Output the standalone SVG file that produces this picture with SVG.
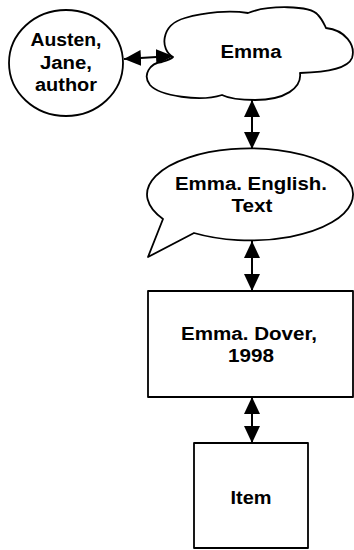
<svg xmlns="http://www.w3.org/2000/svg" width="354" height="550" viewBox="0 0 354 550">
<defs>
<style>
.shape{fill:#fff;stroke:#000;stroke-width:1.8;stroke-linejoin:round}
.lbl{font-family:"Liberation Sans",Arial,sans-serif;font-weight:bold;font-size:18px;fill:#000;text-anchor:middle}
.conn{stroke:#000;stroke-width:2;fill:none;marker-start:url(#ah);marker-end:url(#ah)}
</style>
<marker id="ah" markerUnits="userSpaceOnUse" markerWidth="17" markerHeight="16" refX="17" refY="8" orient="auto-start-reverse" viewBox="0 0 17 16">
<path d="M0,0 L17,8 L0,16 Z" fill="#000"/>
</marker>
</defs>
<rect width="354" height="550" fill="#fff"/>
<g id="connectors">
<line class="conn" x1="124" y1="59" x2="173" y2="56"/>
<line class="conn" x1="252" y1="100" x2="252" y2="149"/>
<line class="conn" x1="252" y1="241" x2="252" y2="291"/>
<line class="conn" x1="252" y1="397" x2="252" y2="443"/>
</g>
<g id="author">
<ellipse class="shape" cx="66" cy="63" rx="57" ry="53"/>
<text class="lbl" x="66" y="45.5" textLength="71" lengthAdjust="spacingAndGlyphs">Austen,</text>
<text class="lbl" x="66" y="68.5" textLength="52" lengthAdjust="spacingAndGlyphs">Jane,</text>
<text class="lbl" x="66" y="91" textLength="62" lengthAdjust="spacingAndGlyphs">author</text>
</g>
<g id="work">
<path class="shape" d="M173,57 C160,50 160,25 185,18 C205,12 230,10 248,13 C268,5 310,5 318,15 C322,19 324,24 326,28 C345,30 356,45 352,58 C348,68 330,72 300,73 C302,88 285,100 255,100 C240,100 228,98 222,95 C200,102 160,96 150,85 C142,75 150,63 162,62 C168,60 172,58 173,57 Z"/>
<text class="lbl" x="251" y="58" textLength="61" lengthAdjust="spacingAndGlyphs">Emma</text>
</g>
<g id="expression">
<path class="shape" d="M163,219 L148,257 L194,233 A103,46 0 1 0 163,219 Z"/>
<text class="lbl" x="251" y="190" textLength="152" lengthAdjust="spacingAndGlyphs">Emma. English.</text>
<text class="lbl" x="252" y="212" textLength="41" lengthAdjust="spacingAndGlyphs">Text</text>
</g>
<g id="manifestation">
<rect class="shape" x="148" y="291" width="205" height="106"/>
<text class="lbl" x="249" y="340" textLength="136" lengthAdjust="spacingAndGlyphs">Emma. Dover,</text>
<text class="lbl" x="251" y="362" textLength="46" lengthAdjust="spacingAndGlyphs">1998</text>
</g>
<g id="item">
<rect class="shape" x="194" y="443" width="114" height="105"/>
<text class="lbl" x="251" y="504" textLength="41" lengthAdjust="spacingAndGlyphs">Item</text>
</g>
</svg>
